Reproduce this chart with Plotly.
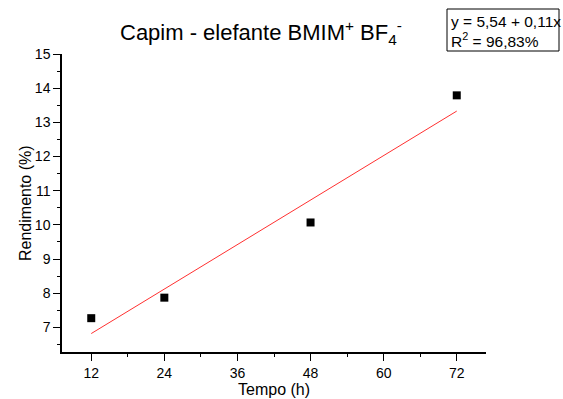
import plotly.graph_objects as go

tempo = [12, 24, 48, 72]
rendimento = [7.27, 7.87, 10.07, 13.79]
fit_x = [12, 72]
fit_y = [6.82, 13.33]
x_ticks = [12, 24, 36, 48, 60, 72]
y_ticks = [7, 8, 9, 10, 11, 12, 13, 14, 15]

FONT = "Liberation Sans, Arial, sans-serif"

fig = go.Figure()
fig.add_trace(go.Scatter(x=fit_x, y=fit_y, mode="lines",
                         line=dict(color="#ff3030", width=1), showlegend=False))
fig.add_trace(go.Scatter(x=tempo, y=rendimento, mode="markers",
                         marker=dict(symbol="square", size=8, color="black"),
                         showlegend=False))

W, H = 563, 399
ml, mr, mt, mb = 62, 77, 54, 47
PW, PH = W - ml - mr, H - mt - mb

def px(x):
    return (x - ml) / PW

def py(y):
    return (H - mb - y) / PH

fig.update_layout(
    width=W, height=H,
    margin=dict(l=ml, r=mr, t=mt, b=mb, autoexpand=False),
    paper_bgcolor="white", plot_bgcolor="white",
    font=dict(family=FONT, color="black", size=14),
    xaxis=dict(range=[7.2, 76.8], tickvals=x_ticks, showline=True, linecolor="black",
               linewidth=1.5, ticks="outside", ticklen=7, tickwidth=1, tickcolor="black",
               showgrid=False, zeroline=False, automargin=False,
               minor=dict(tickvals=[18, 30, 42, 54, 66], ticks="outside", ticklen=3,
                          tickcolor="black", showgrid=False),
               tickfont=dict(size=14)),
    yaxis=dict(range=[6.28, 15], tickvals=y_ticks, showline=True, linecolor="black",
               linewidth=1.5, ticks="outside", ticklen=7, tickwidth=1, tickcolor="black",
               showgrid=False, zeroline=False, automargin=False,
               minor=dict(tickvals=[6.5, 7.5, 8.5, 9.5, 10.5, 11.5, 12.5, 13.5, 14.5],
                          ticks="outside", ticklen=3, tickcolor="black", showgrid=False),
               tickfont=dict(size=14)),
)

fig.add_annotation(xref="paper", yref="paper", x=px(274), y=py(389),
                   text="Tempo (h)", showarrow=False, font=dict(size=16),
                   xanchor="center", yanchor="middle")
fig.add_annotation(xref="paper", yref="paper", x=px(25), y=py(203),
                   text="Rendimento (%)", showarrow=False, font=dict(size=16),
                   textangle=-90, xanchor="center", yanchor="middle")

fig.add_annotation(xref="paper", yref="paper", x=px(261), y=py(32),
                   text="Capim - elefante BMIM<sup>+</sup> BF<sub>4</sub><sup>-</sup>",
                   showarrow=False, font=dict(size=22), xanchor="center", yanchor="middle")

# equation box
fig.add_shape(type="rect", xref="paper", yref="paper",
              x0=px(447), x1=px(559), y0=py(51), y1=py(9),
              line=dict(color="black", width=1), fillcolor="white")
fig.add_annotation(xref="paper", yref="paper", x=px(449), y=py(22),
                   xanchor="left", yanchor="middle", align="left",
                   text="y = 5,54 + 0,11x", showarrow=False, font=dict(size=15.5))
fig.add_annotation(xref="paper", yref="paper", x=px(449), y=py(40),
                   xanchor="left", yanchor="middle", align="left",
                   text="R<sup>2</sup> = 96,83%", showarrow=False, font=dict(size=15.5))

fig.write_html("out.html")
